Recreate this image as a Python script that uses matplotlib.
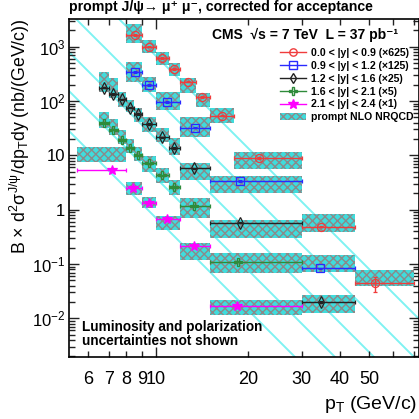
import matplotlib
matplotlib.use("Agg")
import matplotlib.pyplot as plt
from matplotlib.lines import Line2D
from matplotlib.patches import Patch
from matplotlib.ticker import FixedLocator, FixedFormatter, LogLocator, NullFormatter
import numpy as np

plt.rcParams['font.family'] = ['Liberation Sans', 'DejaVu Sans']
plt.rcParams['mathtext.fontset'] = 'custom'
plt.rcParams['mathtext.rm'] = 'Liberation Sans'
plt.rcParams['mathtext.it'] = 'Liberation Sans'
plt.rcParams['mathtext.bf'] = 'Liberation Sans:bold'
plt.rcParams['hatch.linewidth'] = 1.0

# ---------------- data ----------------
# 0.0<|y|<0.9 (x625)
red_bins = [8, 9, 10, 11, 12, 13.5, 15, 18, 30, 45, 70]
red_pt = [8.55, 9.51, 10.46, 11.43, 12.69, 14.15, 16.45, 21.7, 34.8, 52.4]
red_val = [1656, 1008, 617, 392, 229, 118, 54, 8.9, 0.49, 0.044]
red_hi = [2640, 1340, 816, 505, 267, 142, 75, 11.6, 0.84, 0.078]
red_lo = [1165, 762, 464, 291, 142, 78, 40, 5.6, 0.395, 0.0395]

# 0.9<|y|<1.2 (x125)
blue_bins = [8, 9, 10, 12, 15, 30, 45]
blue_pt = [8.55, 9.46, 10.9, 13.4, 18.9, 34.6]
blue_val = [341, 199, 95.4, 32.5, 3.39, 0.0837]
blue_hi = [534, 283, 150, 51.2, 4.19, 0.147]
blue_lo = [229, 150, 68.9, 21.9, 2.06, 0.0725]

# 1.2<|y|<1.6 (x25)
black_bins = [6.5, 7, 7.5, 8, 8.5, 9, 10, 11, 12, 15, 30, 45]
black_pt = [6.75, 7.25, 7.75, 8.25, 8.75, 9.5, 10.5, 11.5, 13.3, 18.8, 34.8]
black_val = [177, 136, 108, 75.9, 57.4, 37.6, 21.6, 13.6, 5.81, 0.578, 0.0200]
black_hi = [349, 267, 150, 105, 75, 51.8, 32.1, 21, 7.37, 0.649, 0.027]
black_lo = [150, 115, 79, 64, 41.9, 27.4, 17.7, 10.2, 3.54, 0.303, 0.0127]

# 1.6<|y|<2.1 (x5)
green_bins = [6.5, 7, 7.5, 8, 8.5, 9, 10, 11, 12, 15, 30]
green_pt = [6.75, 7.25, 7.75, 8.25, 8.75, 9.5, 10.5, 11.5, 13.3, 18.6]
green_val = [39.7, 29.9, 19.3, 13.9, 10.0, 7.12, 4.28, 2.63, 1.17, 0.111]
green_hi = [62, 46, 29, 20, 14, 9.8, 5.8, 3.5, 1.63, 0.16]
green_lo = [32, 24, 16, 11, 7.8, 5.0, 3.1, 1.9, 0.70, 0.068]

# 2.1<|y|<2.4 (x1)
mag_bins = [5.5, 8, 9, 10, 12, 15, 30]
mag_pt = [7.17, 8.44, 9.51, 10.9, 13.3, 18.5]
mag_val = [5.41, 2.55, 1.35, 0.668, 0.216, 0.0171]
mag_hi = [14.5, 3.29, 1.74, 0.769, 0.241, 0.0218]
mag_lo = [7.69, 1.87, 1.07, 0.425, 0.119, 0.0116]

labels = ["0.0 < |y| < 0.9 (×625)", "0.9 < |y| < 1.2 (×125)",
          "1.2 < |y| < 1.6 (×25)", "1.6 < |y| < 2.1 (×5)",
          "2.1 < |y| < 2.4 (×1)", "prompt NLO NRQCD"]

# background diagonal guide lines (intercepts in axes-pixel units)
diag_offsets = [62, 22, -17, -57, -100]

# ---------------- figure ----------------
W, H = 419, 419
fig = plt.figure(figsize=(W / 100, H / 100), dpi=100)
L, R, T, B = 69.3, 418.5, 19.3, 357.0
ax = fig.add_axes([L / W, 1 - B / H, (R - L) / W, (B - T) / H])
ax.set_xscale('log')
ax.set_yscale('log')
ax.set_xlim(5.2, 72.5)
ax.set_ylim(0.00195, 3200)

for c in diag_offsets:
    xs = np.array([L - 50, R + 50])
    ys = xs + c
    xf = (xs - L) / (R - L)
    yf = 1 - (ys - T) / (B - T)
    ax.plot(xf, yf, transform=ax.transAxes, color='#7ff2f2', lw=1.4, zorder=1, clip_on=True)

band_face = '#3fdcdc'
band_hatch = '#8a8a8a'

series = [
    (red_bins, red_pt, red_val, red_hi, red_lo, '#f03c3c', 'o', 'none', 5.8),
    (blue_bins, blue_pt, blue_val, blue_hi, blue_lo, '#2a2aff', 's', 'none', 5.8),
    (black_bins, black_pt, black_val, black_hi, black_lo, '#222222', 'd', 'none', 5.8),
    (green_bins, green_pt, green_val, green_hi, green_lo, '#2e8b3a', 'P', 'none', 6.3),
    (mag_bins, mag_pt, mag_val, mag_hi, mag_lo, '#ff00ff', '*', '#ff00ff', 7.5),
]

for bins, pt, val, hi, lo, col, mk, mfc, ms in series:
    bins = np.array(bins, float)
    hi = np.array(hi); lo = np.array(lo)
    ax.bar(bins[:-1], hi - lo, bottom=lo, width=np.diff(bins), align='edge',
           color=band_face, edgecolor=band_hatch, hatch='xxxx', linewidth=0, zorder=2)

for bins, pt, val, hi, lo, col, mk, mfc, ms in series:
    bins = np.array(bins, float)
    pt = np.array(pt); val = np.array(val)
    xerr = [pt - bins[:-1], bins[1:] - pt]
    yerr = [val * 0.03, val * 0.03]
    if col == '#f03c3c':
        yerr[0][-1] = 0.013
        yerr[1][-1] = 0.015
    ax.errorbar(pt, val, xerr=xerr, yerr=yerr, fmt=mk, color=col, mfc=mfc, mec=col,
                ms=ms, mew=0.9, elinewidth=1.0, capsize=1.5, zorder=4)

# ticks
ax.xaxis.set_major_locator(FixedLocator([10]))
ax.xaxis.set_major_formatter(FixedFormatter(['10']))
minor_x = [6, 7, 8, 9, 20, 30, 40, 50, 60, 70]
ax.xaxis.set_minor_locator(FixedLocator(minor_x))
ax.xaxis.set_minor_formatter(FixedFormatter(['6', '7', '8', '9', '20', '30', '40', '50', '', '']))
ax.yaxis.set_major_locator(FixedLocator([1e-2, 1e-1, 1, 10, 1e2, 1e3]))
ax.yaxis.set_major_formatter(FixedFormatter([r'$10^{-2}$', r'$10^{-1}$', '1', '10', r'$10^{2}$', r'$10^{3}$']))
ax.yaxis.set_minor_locator(LogLocator(base=10, subs=np.arange(2, 10), numticks=20))
ax.yaxis.set_minor_formatter(NullFormatter())
ax.tick_params(which='both', direction='in', top=True, right=True, width=1.0, color='#222222')
ax.tick_params(which='major', length=7.5)
ax.tick_params(which='minor', length=4)
ax.tick_params(axis='x', which='both', labelsize=13, pad=10)
ax.tick_params(axis='y', which='both', labelsize=12, pad=3)
for s in ax.spines.values():
    s.set_linewidth(1.2)

fig.text(20 / W, 1 - 18 / H, r'B $\times$ d$^{2}\sigma^{J/\psi}$/dp$_{T}$dy (nb/(GeV/c))',
         rotation=90, ha='center', va='top', fontsize=12.8)
fig.text(417 / W, 1 - 404 / H, r'p$_{T}$ (GeV/c)', ha='right', va='center', fontsize=14)

fig.text(L / W, 1 - 7.5 / H, 'prompt J/ψ→ μ⁺ μ⁻, corrected for acceptance',
         ha='left', va='center', fontsize=10.2, fontweight='bold')
fig.text(212 / W, 1 - 35 / H, 'CMS  √s = 7 TeV  L = 37 pb⁻¹',
         ha='left', va='center', fontsize=10, fontweight='bold')
ax.text(0.037, 0.068, 'Luminosity and polarization\nuncertainties not shown',
        transform=ax.transAxes, ha='left', va='center', fontsize=9.8, fontweight='bold',
        linespacing=1.0)

handles = []
for bins, pt, val, hi, lo, col, mk, mfc, ms in series:
    handles.append(Line2D([], [], color=col, marker=mk, mfc=mfc, mec=col, ms=ms - 0.5, lw=1.0))
handles.append(Patch(facecolor=band_face, edgecolor=band_hatch, hatch='xxxx', linewidth=0))
leg = ax.legend(handles, labels, loc='upper left', bbox_to_anchor=(280 / W, 1 - 48 / H),
                bbox_transform=fig.transFigure, frameon=False,
                prop={'weight': 'bold', 'size': 7.6}, handlelength=2.5, handletextpad=0.4,
                labelspacing=0.27, borderpad=0, borderaxespad=0)

fig.savefig('out.png', dpi=100)
